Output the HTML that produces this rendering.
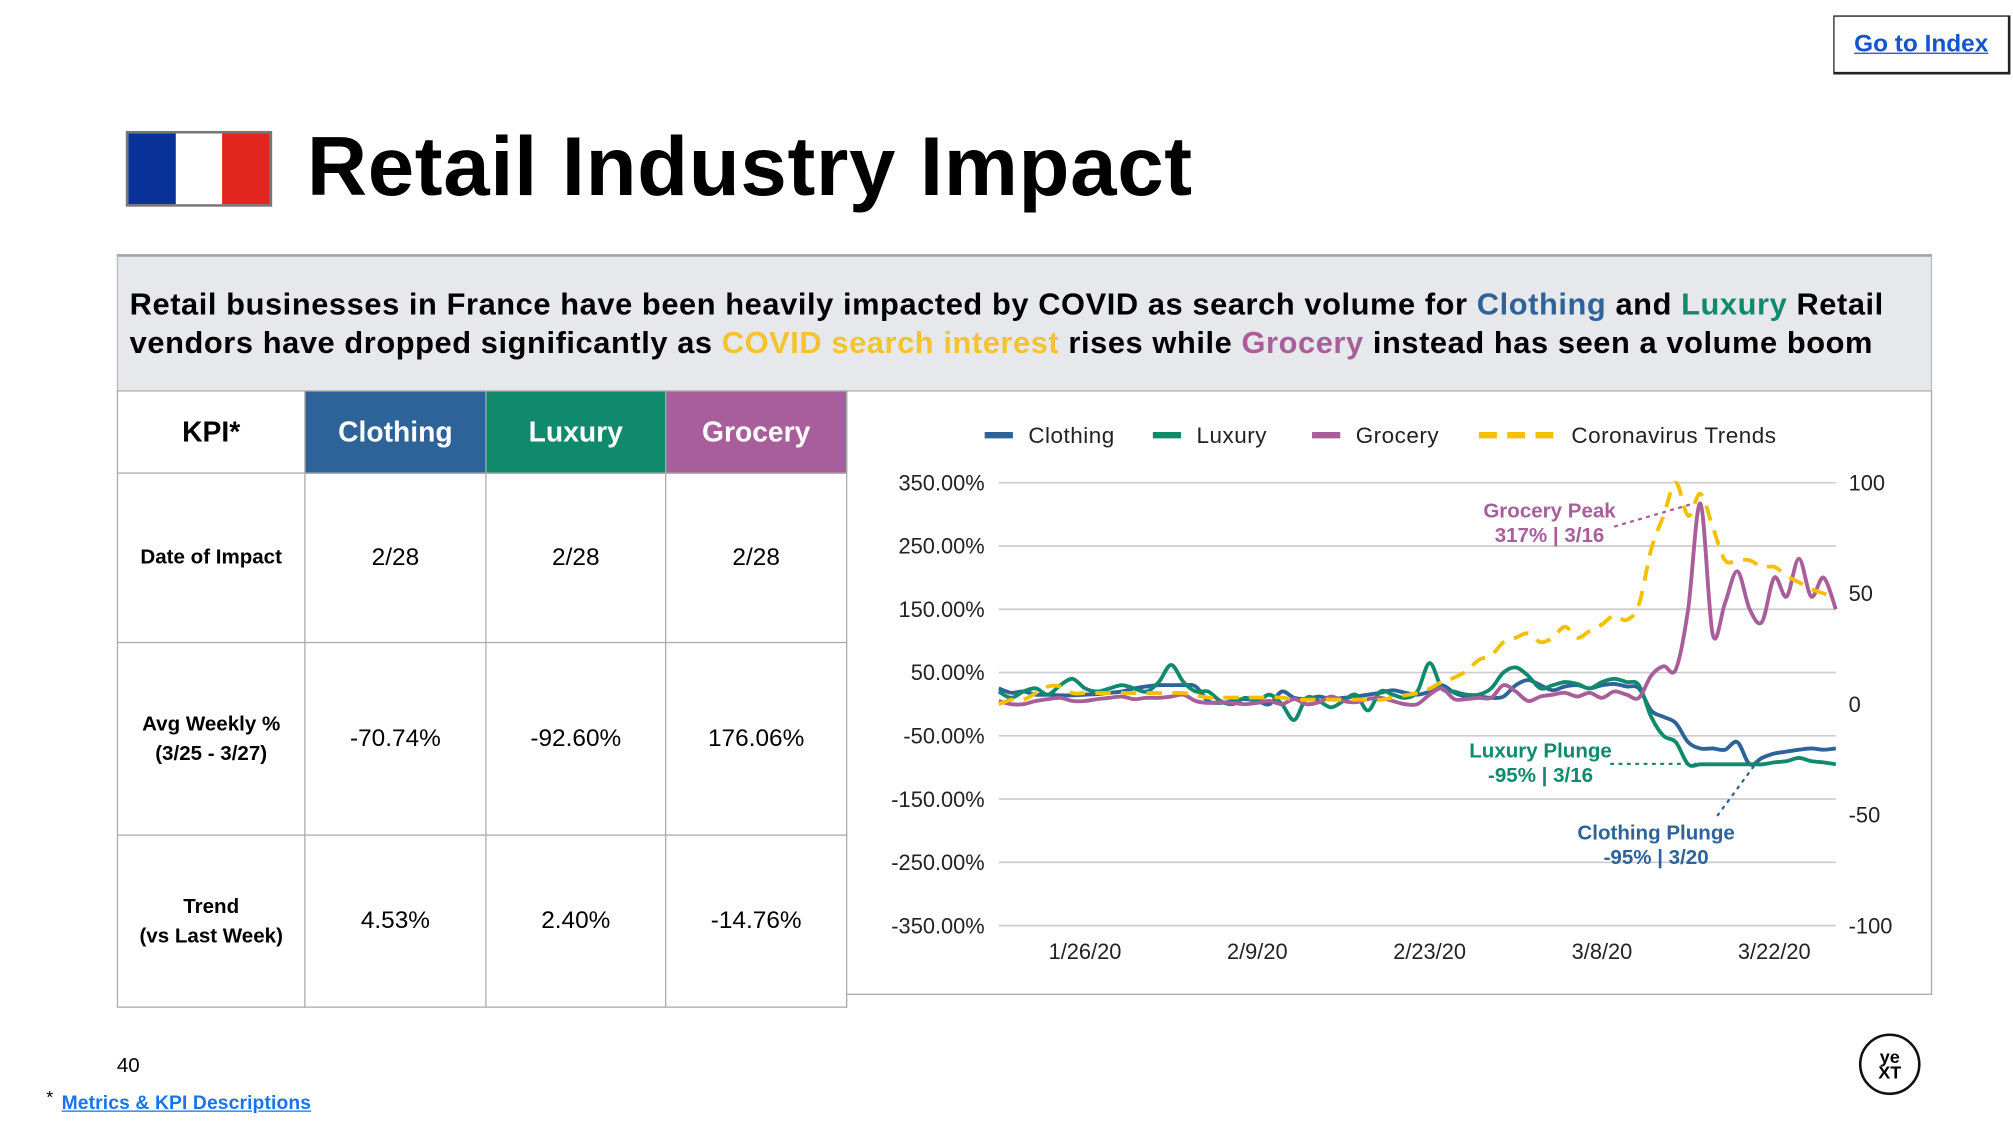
<!DOCTYPE html>
<html><head><meta charset="utf-8">
<style>
html,body{margin:0;padding:0;background:#fff;overflow:hidden;}
body{width:2013px;height:1129px;position:relative;}
#stage{position:absolute;left:0;top:0;width:1568px;height:880px;transform:scale(1.28380);transform-origin:0 0;font-family:"Liberation Sans",Arial,sans-serif;}
.abs{position:absolute;}
.cell{position:absolute;display:flex;align-items:center;justify-content:center;text-align:center;box-sizing:border-box;border-right:1px solid #aaa;border-bottom:1px solid #aaa;}
.hd{color:#fff;font-weight:bold;font-size:22px;}
.lbl{font-weight:bold;font-size:16px;line-height:23px;}
.val{font-size:19px;}
</style></head><body>
<div id="stage">
  <div class="abs" style="left:1428px;top:12px;width:135px;height:43px;border:1px solid #222;border-right-width:2px;border-bottom-width:2px;display:flex;align-items:center;justify-content:center;">
    <a style="color:#1155cc;font-weight:bold;font-size:19px;text-decoration:underline;">Go to Index</a>
  </div>
  <div class="abs" style="left:98px;top:102px;width:110px;height:55px;border:2px solid #777;display:flex;">
    <div style="flex:1;background:#0a3399"></div><div style="flex:1;background:#fff"></div><div style="flex:1;background:#e0261f"></div>
  </div>
  <div class="abs" style="left:239px;top:92px;font-size:65px;font-weight:bold;color:#000;letter-spacing:0.5px;">Retail Industry Impact</div>
  <div class="abs" style="left:91px;top:198px;width:1414px;height:106px;background:#e6e8eb;border-top:2px solid #9aa3ab;border-left:1px solid #bbb;border-right:1px solid #bbb;box-sizing:border-box;">
    <div style="position:absolute;left:9px;top:23px;font-weight:bold;font-size:24px;letter-spacing:0.45px;line-height:30px;color:#000;white-space:nowrap;">Retail businesses in France have been heavily impacted by COVID as search volume for <span style="color:#2e6399">Clothing</span> and <span style="color:#108a6c">Luxury</span> Retail<br>vendors have dropped significantly as <span style="color:#f5c330">COVID search interest</span> rises while <span style="color:#a85e9a">Grocery</span> instead has seen a volume boom</div>
  </div>
  <div class="abs" style="left:91px;top:304px;width:568px;height:480px;border-left:1px solid #aaa;border-top:1px solid #aaa;">
    <div class="cell" style="left:0;top:0;width:146px;height:64px;font-weight:bold;font-size:22px;">KPI*</div>
    <div class="cell hd" style="left:146px;top:0;width:141px;height:64px;background:#2e6399;">Clothing</div>
    <div class="cell hd" style="left:287px;top:0;width:140px;height:64px;background:#108a6c;">Luxury</div>
    <div class="cell hd" style="left:427px;top:0;width:141px;height:64px;background:#a85e9a;">Grocery</div>

    <div class="cell lbl" style="left:0;top:64px;width:146px;height:132px;">Date of Impact</div>
    <div class="cell val" style="left:146px;top:64px;width:141px;height:132px;">2/28</div>
    <div class="cell val" style="left:287px;top:64px;width:140px;height:132px;">2/28</div>
    <div class="cell val" style="left:427px;top:64px;width:141px;height:132px;">2/28</div>

    <div class="cell lbl" style="left:0;top:196px;width:146px;height:150px;">Avg Weekly %<br>(3/25 - 3/27)</div>
    <div class="cell val" style="left:146px;top:196px;width:141px;height:150px;">-70.74%</div>
    <div class="cell val" style="left:287px;top:196px;width:140px;height:150px;">-92.60%</div>
    <div class="cell val" style="left:427px;top:196px;width:141px;height:150px;">176.06%</div>

    <div class="cell lbl" style="left:0;top:346px;width:146px;height:134px;">Trend<br>(vs Last Week)</div>
    <div class="cell val" style="left:146px;top:346px;width:141px;height:134px;">4.53%</div>
    <div class="cell val" style="left:287px;top:346px;width:140px;height:134px;">2.40%</div>
    <div class="cell val" style="left:427px;top:346px;width:141px;height:134px;">-14.76%</div>
  </div>
  <div class="abs" style="left:659px;top:304px;width:846px;height:471px;border:1px solid #aaa;border-left:none;box-sizing:border-box;"></div>
  <svg id="chart" class="abs" style="left:0;top:0;" width="1568" height="880" font-family="Liberation Sans, Arial, sans-serif"></svg>

  <div class="abs" style="left:91px;top:822px;font-size:16px;">40</div>
  <div class="abs" style="left:36px;top:846px;font-size:14px;">*</div>
  <a class="abs" style="left:48px;top:851px;font-size:15px;font-weight:bold;letter-spacing:0.1px;color:#1a73e8;text-decoration:underline;">Metrics &amp; KPI Descriptions</a>
  <div class="abs" style="left:1448px;top:805px;width:44px;height:44px;border:2.5px solid #111;border-radius:50%;display:flex;flex-direction:column;align-items:center;justify-content:center;font-size:14px;font-weight:bold;line-height:12px;">
    <span>ye</span><span>XT</span>
  </div>
</div>
<script>
const dateLabels = ["1/26/20","2/9/20","2/23/20","3/8/20","3/22/20"];
const dateLabelIdx = [7,21,35,49,63];
const leftTicks = [350,250,150,50,-50,-150,-250,-350];
const rightTicks = [100,50,0,-50,-100];
const clothing = [25,18,20,15,15,14,14, 15,16,18,20,25,28,30, 30,30,28,5,2,5,8, 5,0,20,10,8,12,8, 10,12,15,18,22,18,15, 20,30,18,12,12,10,12, 30,38,30,22,28,30,25, 30,32,28,25,-10,-20,-30, -60,-70,-70,-72,-60,-95,-85, -78,-75,-72,-70,-72,-70];
const luxury = [20,10,20,25,15,30,40, 25,20,25,30,25,20,35, 62,35,20,20,5,0,10, 5,15,0,-25,10,5,-5, 5,15,-10,20,15,10,20, 65,25,20,15,15,25,50, 58,45,25,30,35,32,25, 35,40,35,30,-20,-50,-60, -95,-95,-95,-95,-95,-95,-95, -92,-90,-85,-90,-92,-95];
const grocery = [5,0,0,5,8,10,5, 5,8,10,12,8,10,10, 12,15,5,2,3,2,0, 2,5,0,8,0,3,12, 5,3,8,10,5,0,0, 15,25,8,8,10,10,30, 20,5,12,15,18,12,18, 10,20,15,10,45,60,55, 150,317,110,160,210,150,130, 200,170,230,170,200,150];
const corona = [0,2,2,5,8,8,5, 5,5,5,5,5,5,5, 5,5,4,3,3,3,3, 3,3,3,2,2,2,2, 2,2,2,2,3,4,5, 7,10,12,15,20,22,28, 30,32,28,30,35,30,33, 36,40,38,45,70,85,100, 85,95,80,65,65,65,62, 62,58,55,52,50,48];

const X0=778, X1=1430, N=69;
const x = i => X0 + i*(X1-X0)/(N-1);
const yL = v => 548.5 - v*(345/700);
const yR = v => 548.5 - v*(345/200);
const svg = document.getElementById('chart');
const NS='http://www.w3.org/2000/svg';
function mk(tag, attrs){const e=document.createElementNS(NS,tag);for(const k in attrs)e.setAttribute(k,attrs[k]);svg.appendChild(e);return e;}
function txt(s, attrs){const e=mk('text',attrs);e.textContent=s;return e;}

leftTicks.forEach(v=>{
  const g=mk('line',{x1:X0,x2:X1,y1:yL(v),y2:yL(v),stroke:'#ccc','stroke-width':1.3});
  
  
  const t=txt(v.toFixed(2)+'%',{x:767,y:yL(v)+6,'text-anchor':'end','font-size':17,fill:'#222'});
  
  
});
rightTicks.forEach(v=>{
  const t=txt(String(v),{x:1440,y:yR(v)+6,'font-size':17,fill:'#222'});
  
  
});
dateLabels.forEach((s,k)=>{
  const t=txt(s,{x:x(dateLabelIdx[k]),y:747,'text-anchor':'middle','font-size':17,fill:'#222'});
  
  
});

function smooth(pts){
  let d='M'+pts[0][0]+','+pts[0][1];
  for(let i=0;i<pts.length-1;i++){
    const p0=pts[i-1]||pts[i],p1=pts[i],p2=pts[i+1],p3=pts[i+2]||p2;
    const c1=[p1[0]+(p2[0]-p0[0])/6,p1[1]+(p2[1]-p0[1])/6];
    const c2=[p2[0]-(p3[0]-p1[0])/6,p2[1]-(p3[1]-p1[1])/6];
    d+=' C'+c1[0]+','+c1[1]+' '+c2[0]+','+c2[1]+' '+p2[0]+','+p2[1];
  }
  return d;
}
const series=[
  {data:clothing,color:'#2e6399',scale:yL,name:'clothing-line',dash:null},
  {data:luxury,color:'#108a6c',scale:yL,name:'luxury-line',dash:null},
  {data:grocery,color:'#a85e9a',scale:yL,name:'grocery-line',dash:null},
  {data:corona,color:'#f5c000',scale:yR,name:'coronavirus-trends-line',dash:'12,8'}
];
series.forEach(s=>{
  const p=mk('path',{d:smooth(s.data.map((v,i)=>[x(i),s.scale(v)])),fill:'none',stroke:s.color,'stroke-width':3,'stroke-linejoin':'round'});
  if(s.dash) p.setAttribute('stroke-dasharray',s.dash);
  
  
});

const legend=[['Clothing','#2e6399',767,null],['Luxury','#108a6c',898,null],['Grocery','#a85e9a',1022,null],['Coronavirus Trends','#f5c000',1152,'14,8']];
legend.forEach(l=>{
  const ln=mk('line',{x1:l[2],x2:l[3]?l[2]+58:l[2]+22,y1:339,y2:339,stroke:l[1],'stroke-width':5});
  if(l[3]) ln.setAttribute('stroke-dasharray',l[3]);
  
  
  const t=txt(l[0],{x:(l[3]?l[2]+72:l[2]+34),y:345,'font-size':17.5,'letter-spacing':0.4,fill:'#222'});
  
  
});

const ann=[
  ['Grocery Peak','317% | 3/16','#a85e9a',1207,397,[[1258,410],[1320,392]]],
  ['Luxury Plunge','-95% | 3/16','#108a6c',1200,584,[[1255,595],[1322,595]]],
  ['Clothing Plunge','-95% | 3/20','#2e6399',1290,648,[[1338,635],[1366,597]]]
];
ann.forEach(a=>{
  const t1=txt(a[0],{x:a[3],y:a[4]+6,'text-anchor':'middle','font-size':16,'font-weight':'bold',fill:a[2]});
  
  
  const t2=txt(a[1],{x:a[3],y:a[4]+25,'text-anchor':'middle','font-size':16,'font-weight':'bold',fill:a[2]});
  
  
  const l=mk('line',{x1:a[5][0][0],y1:a[5][0][1],x2:a[5][1][0],y2:a[5][1][1],stroke:a[2],'stroke-width':1.8,'stroke-dasharray':'1.5,5','stroke-linecap':'round'});
  
  
});
</script>
</body></html>
